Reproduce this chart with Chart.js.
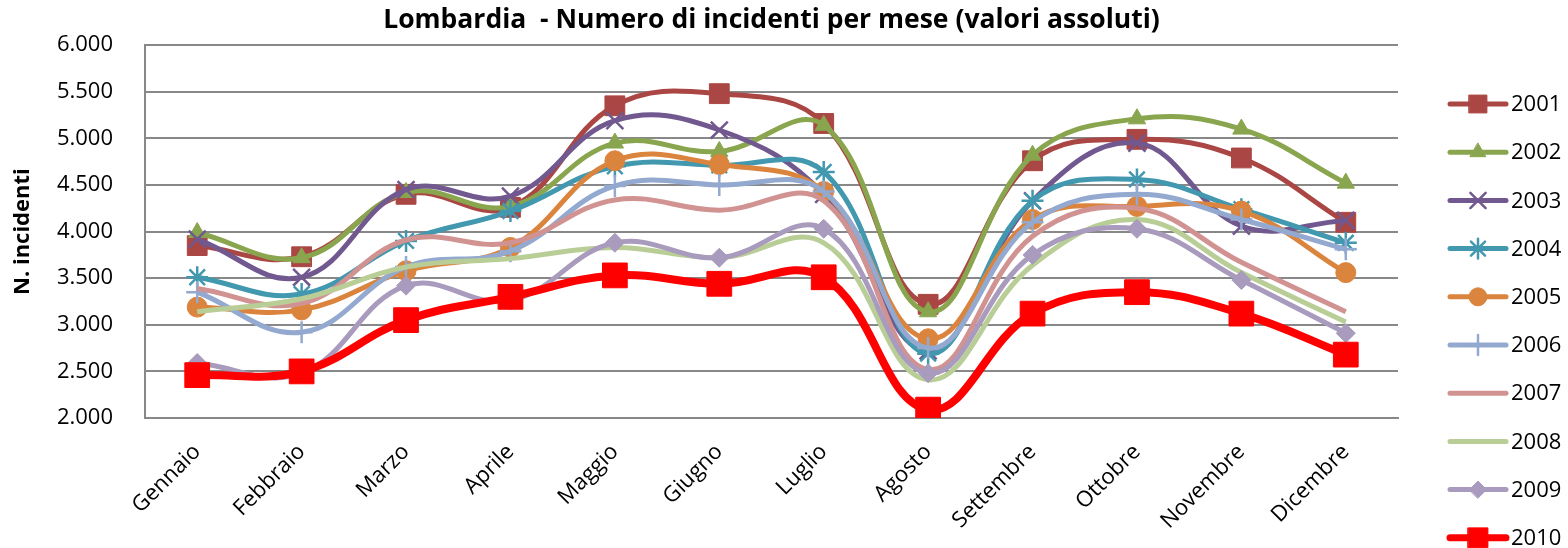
<!DOCTYPE html>
<html>
<head>
<meta charset="utf-8">
<script src="https://cdn.jsdelivr.net/npm/chart.js@4.4.0/dist/chart.umd.min.js"></script>
<style>
    body { margin: 0; background: #ffffff; }
    #wrap { width: 1568px; height: 548px; }
</style>
</head>
<body>
<div id="wrap"><canvas id="incidentiChart"></canvas></div>
<script>
// === DATI ===
const MESI = ['Gennaio', 'Febbraio', 'Marzo', 'Aprile', 'Maggio', 'Giugno',
              'Luglio', 'Agosto', 'Settembre', 'Ottobre', 'Novembre', 'Dicembre'];
const ANNI = ['2001', '2002', '2003', '2004', '2005', '2006', '2007', '2008', '2009', '2010'];
const Y_TICKS = [2000, 2500, 3000, 3500, 4000, 4500, 5000, 5500, 6000];
const Y_TICK_LABELS = ['2.000', '2.500', '3.000', '3.500', '4.000', '4.500', '5.000', '5.500', '6.000'];

const v2001 = [3850, 3730, 4400, 4260, 5350, 5480, 5160, 3220, 4760, 4990, 4790, 4100];
const v2002 = [3990, 3720, 4420, 4270, 4950, 4860, 5140, 3140, 4820, 5210, 5100, 4520];
const v2003 = [3920, 3510, 4450, 4380, 5190, 5090, 4400, 2720, 4330, 4950, 4060, 4120];
const v2004 = [3510, 3330, 3900, 4220, 4700, 4710, 4640, 2690, 4330, 4560, 4240, 3880];
const v2005 = [3190, 3160, 3580, 3830, 4760, 4720, 4430, 2850, 4130, 4270, 4220, 3560];
const v2006 = [3350, 2920, 3620, 3790, 4490, 4500, 4430, 2750, 4100, 4400, 4130, 3810];
const v2007 = [3390, 3230, 3910, 3880, 4340, 4230, 4330, 2520, 3950, 4250, 3670, 3140];
const v2008 = [3140, 3280, 3620, 3710, 3830, 3720, 3880, 2410, 3640, 4130, 3560, 3030];
const v2009 = [2590, 2480, 3420, 3260, 3880, 3720, 4030, 2480, 3750, 4030, 3480, 2910];
const v2010 = [2460, 2500, 3050, 3300, 3530, 3440, 3510, 2090, 3120, 3350, 3120, 2680];

const SERIE = [v2001, v2002, v2003, v2004, v2005, v2006, v2007, v2008, v2009, v2010];

// === STILI ===
const COLORI = ['#AA4643', '#89A54E', '#71588F', '#4198AF', '#DB843D',
                '#93A9CF', '#D19392', '#B9CD96', '#A99BBD', '#FF0000'];
const MARKER = ['rect', 'triangle', 'crossRot', 'star', 'circle', 'cross', false, false, 'rectRot', 'rect'];
const RAGGI = [14, 10, 12, 11, 10, 11, 0, 0, 9.5, 17.5];
const FONT = '"Open Sans", "Noto Sans", sans-serif';
const GRIGIO = '#888888';

const datasets = SERIE.map((valori, i) => ({
    label: ANNI[i],
    data: valori,
    borderColor: COLORI[i],
    backgroundColor: COLORI[i],
    borderWidth: i === 9 ? 8 : 5,
    tension: 0.4,
    pointStyle: MARKER[i],
    pointRadius: RAGGI[i],
    pointHoverRadius: RAGGI[i],
    pointBackgroundColor: COLORI[i],
    pointBorderColor: COLORI[i],
    pointBorderWidth: (MARKER[i] === 'crossRot' || MARKER[i] === 'star' || MARKER[i] === 'cross') ? 2.5 : 1,
    order: SERIE.length - i
}));

// legenda disegnata a mano: linea + marcatore + anno
const legendaAnni = {
    id: 'legendaAnni',
    afterDraw(chart) {
        const ctx = chart.ctx;
        const x0 = chart.chartArea.right + 52;
        chart.data.datasets.forEach((ds, i) => {
            const y = 104 + i * 48.2;
            ctx.save();
            ctx.strokeStyle = ds.borderColor;
            ctx.lineWidth = i === 9 ? 7 : 5;
            ctx.lineCap = 'round';
            ctx.beginPath();
            ctx.moveTo(x0, y);
            ctx.lineTo(x0 + 56, y);
            ctx.stroke();
            if (ds.pointStyle) {
                ctx.fillStyle = ds.pointBackgroundColor;
                ctx.strokeStyle = ds.pointBorderColor;
                ctx.lineWidth = ds.pointBorderWidth;
                Chart.helpers.drawPoint(ctx, {
                    pointStyle: ds.pointStyle,
                    radius: i === 9 ? 14 : ds.pointRadius * 0.9,
                    borderWidth: ds.pointBorderWidth,
                    rotation: 0
                }, x0 + 28, y);
            }
            ctx.fillStyle = '#000000';
            ctx.font = '22px ' + FONT;
            ctx.textBaseline = 'middle';
            ctx.textAlign = 'left';
            ctx.fillText(ds.label, x0 + 61, y + 1);
            ctx.restore();
        });
    }
};

new Chart(document.getElementById('incidentiChart'), {
    type: 'line',
    data: { labels: MESI, datasets: datasets },
    options: {
        responsive: true,
        maintainAspectRatio: false,
        animation: false,
        layout: { padding: { left: 10, right: 170, top: 0, bottom: 0 } },
        plugins: {
            legend: { display: false },
            tooltip: { enabled: false },
            title: {
                display: true,
                fullSize: false,
                text: 'Lombardia  - Numero di incidenti per mese (valori assoluti)',
                color: '#000000',
                font: { family: FONT, size: 26.5, weight: 'bold', lineHeight: 1.2 },
                padding: { top: 0, bottom: 9 }
            }
        },
        scales: {
            x: {
                offset: true,
                grid: { display: false },
                border: { color: GRIGIO, width: 2 },
                ticks: {
                    color: '#000000',
                    font: { family: FONT, size: 22 },
                    maxRotation: 45,
                    minRotation: 45,
                    padding: 13,
                    autoSkip: false
                },
                afterFit(scale) { scale.height = 130; }
            },
            y: {
                min: 2000,
                max: 6000,
                afterBuildTicks(scale) { scale.ticks = Y_TICKS.map(v => ({ value: v })); },
                grid: { color: GRIGIO, lineWidth: 2, drawTicks: false },
                border: { color: GRIGIO, width: 2 },
                ticks: {
                    color: '#000000',
                    font: { family: FONT, size: 22 },
                    padding: 32,
                    callback: (value) => Y_TICK_LABELS[Y_TICKS.indexOf(value)]
                },
                title: {
                    display: true,
                    text: 'N. incidenti',
                    color: '#000000',
                    font: { family: FONT, size: 22, weight: 'bold' },
                    padding: { top: 0, bottom: 0 }
                },
                afterFit(scale) { scale.width = 135; }
            }
        }
    },
    plugins: [legendaAnni]
});
</script>
</body>
</html>
